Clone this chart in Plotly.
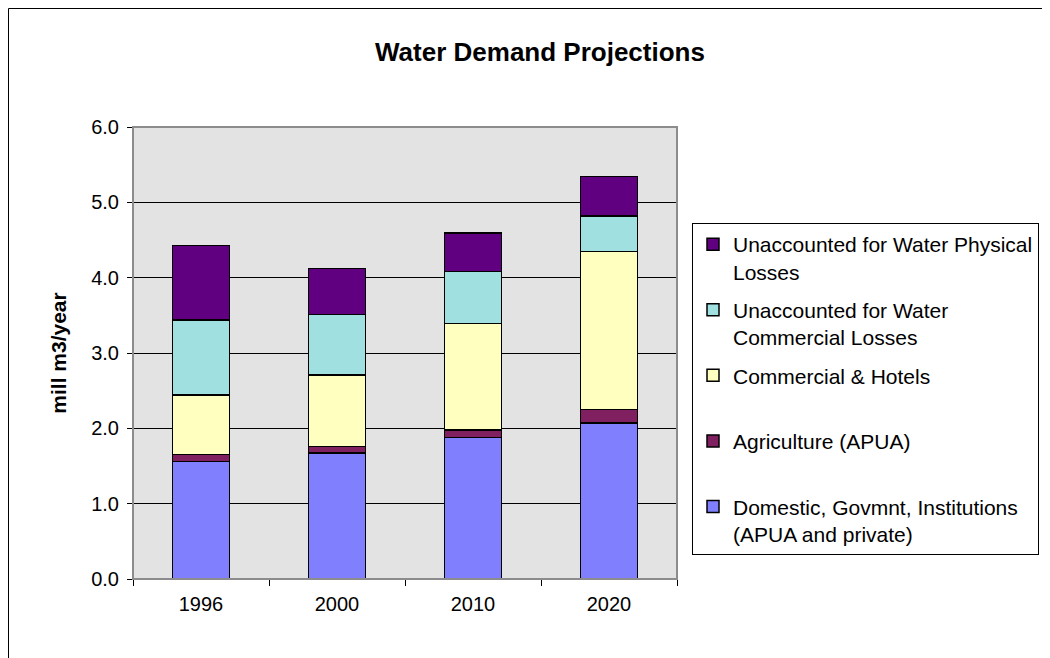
import plotly.graph_objects as go

years = ["1996", "2000", "2010", "2020"]
domestic = [1.56, 1.67, 1.88, 2.07]
agriculture = [0.09, 0.09, 0.10, 0.18]
commercial = [0.79, 0.95, 1.41, 2.10]
ufw_commercial = [1.00, 0.80, 0.69, 0.47]
ufw_physical = [0.99, 0.61, 0.51, 0.52]

series = [
    ("Domestic, Govmnt, Institutions<br>(APUA and private)", domestic, "#8080FF"),
    ("Agriculture (APUA)<br>\u00a0", agriculture, "#802060"),
    ("Commercial & Hotels<br>\u00a0", commercial, "#FFFFC0"),
    ("Unaccounted for Water<br>Commercial Losses", ufw_commercial, "#A0E0E0"),
    ("Unaccounted for Water Physical<br>Losses", ufw_physical, "#600080"),
]

FONT = "Arial, Liberation Sans, sans-serif"

fig = go.Figure()
n = len(series)
for i, (name, vals, color) in enumerate(series):
    fig.add_trace(go.Bar(
        x=years, y=vals, name=name, legendgroup=f"g{i}", legendrank=n - i,
        marker=dict(color=color, line=dict(color="#000000", width=1.5)),
    ))

# page body has an 8px margin: figure drawn at (8,8)
OFF = 8
W, H = 1050 - OFF, 658 - OFF
L, T = 133 - OFF, 127 - OFF
R = W - (677 - OFF)
B = H - (579 - OFF)
pw, ph = W - L - R, H - T - B

def px2x(px):
    return (px - OFF - L) / pw

def py2y(py):
    return (H - B - (py - OFF)) / ph

fig.update_layout(
    width=W, height=H,
    margin=dict(l=L, r=R, t=T, b=B, autoexpand=False),
    paper_bgcolor="white",
    plot_bgcolor="#E3E3E3",
    barmode="stack",
    bargap=0.58,
    font=dict(family=FONT, size=20, color="#000000"),
    title=dict(text="<b>Water Demand Projections</b>", font=dict(size=26, family=FONT),
               xref="container", x=(540 - OFF) / W, xanchor="center",
               yref="container", y=1 - (52 - OFF) / H, yanchor="middle"),
    xaxis=dict(type="category", showline=True, linecolor="#000000", linewidth=1,
               ticks="outside", tickson="boundaries", ticklen=6, tickcolor="#000000",
               showgrid=False, tickfont=dict(size=20), ticklabelstandoff=7),
    yaxis=dict(range=[0, 6], dtick=1, tickformat=".1f", showline=True,
               linecolor="#000000", linewidth=1, ticks="outside", ticklen=5,
               tickcolor="#000000", showgrid=True, gridcolor="#000000", gridwidth=1,
               zeroline=False, tickfont=dict(size=20), ticklabelstandoff=4,
               title=dict(text="<b>mill m3/year</b>", font=dict(size=21), standoff=18)),
    legend=dict(xref="container", yref="container", x=(692 - OFF) / W, y=1 - (223 - OFF) / H,
                xanchor="left", yanchor="top", bgcolor="white",
                bordercolor="#000000", borderwidth=1, valign="top",
                traceorder="grouped", tracegroupgap=8, maxheight=420,
                font=dict(size=21, family=FONT)),
    shapes=[
        dict(type="rect", xref="paper", yref="paper", x0=0, x1=1, y0=0, y1=1,
             line=dict(color="#8C8C8C", width=2), fillcolor="rgba(0,0,0,0)", layer="above"),
        dict(type="rect", xref="paper", yref="paper", x0=px2x(8.5), x1=px2x(1070),
             y0=py2y(680), y1=py2y(8.5), line=dict(color="#000000", width=1),
             fillcolor="rgba(0,0,0,0)", layer="below"),
    ],
)

fig.write_html("out.html")
